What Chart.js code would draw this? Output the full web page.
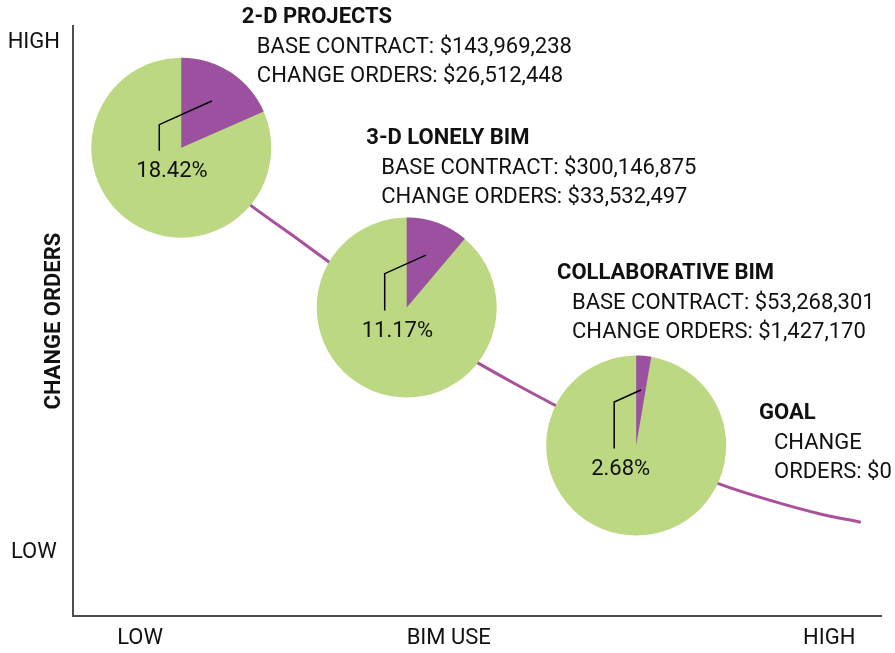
<!DOCTYPE html>
<html>
<head>
<meta charset="utf-8">
<script src="https://cdn.jsdelivr.net/npm/chart.js@4.4.1/dist/chart.umd.min.js"></script>
<style>
  html, body { margin: 0; padding: 0; background: #fff; }
  #wrap { width: 895px; height: 653px; }
</style>
</head>
<body>
<div id="wrap"><canvas id="myChart"></canvas></div>
<script>
// project groups (one pie each)
const projectNames = ['2-D PROJECTS', '3-D LONELY BIM', 'COLLABORATIVE BIM'];
const baseContracts = ['$143,969,238', '$300,146,875', '$53,268,301'];
const changeOrders = ['$26,512,448', '$33,532,497', '$1,427,170'];
const changePercents = [18.42, 11.17, 2.68];
const projectBimUse = [13.4, 41.3, 69.7];
const projectChangeLevel = [79.4, 52.3, 28.9];

// goal note
const goalTitle = 'GOAL';
const goalLines = ['CHANGE', 'ORDERS: $0'];

// trend curve
const curveBimUse = [13.4, 21.9, 26.9, 31.6, 41.3, 50.0, 54.8, 59.7, 69.7, 79.8, 86.3, 92.5, 97.5];
const curveChangeLevel = [78.9, 69.7, 64.8, 60.1, 50.4, 43.0, 39.3, 35.7, 28.3, 22.5, 19.6, 17.3, 15.9];

// axis ticks
const xTickValues = [8.3, 46.5, 93.6];
const xTickLabels = ['LOW', 'BIM USE', 'HIGH'];
const yTickValues = [97.2, 10.7];
const yTickLabels = ['HIGH', 'LOW'];

const FONT = 'Roboto';
const GREEN = '#bdd882';
const PURPLE = '#9b50a0';
const CURVE = '#a9519d';
const INK = '#111';

// purple slice, leader line and % label on top of each green point
const pieSlices = {
    id: 'pieSlices',
    afterDatasetsDraw(chart, args, opts) {
        const ctx = chart.ctx;
        const meta = chart.getDatasetMeta(0);
        meta.data.forEach((pt, i) => {
            const r = opts.radius;
            const cx = pt.x, cy = pt.y;
            const a0 = -Math.PI / 2;
            const a1 = a0 + changePercents[i] / 100 * Math.PI * 2;
            ctx.save();
            ctx.fillStyle = PURPLE;
            ctx.beginPath();
            ctx.moveTo(cx, cy);
            ctx.arc(cx, cy, r, a0, a1);
            ctx.closePath();
            ctx.fill();

            const am = (a0 + a1) / 2;
            const sx = cx + Math.cos(am) * r * 0.62;
            const sy = cy + Math.sin(am) * r * 0.62;
            const ex = cx - 22;
            const ey = sy + 0.45 * (sx - ex);
            ctx.strokeStyle = '#000';
            ctx.lineWidth = 1.5;
            ctx.beginPath();
            ctx.moveTo(sx, sy);
            ctx.lineTo(ex, ey);
            ctx.lineTo(ex, cy + 3);
            ctx.stroke();

            ctx.fillStyle = INK;
            ctx.font = '22px ' + FONT;
            ctx.textAlign = 'left';
            ctx.textBaseline = 'middle';
            ctx.fillText(changePercents[i].toFixed(2) + '%', cx - 45, cy + 24);
            ctx.restore();
        });
    },
    afterDraw(chart, args, opts) {
        const ctx = chart.ctx;
        const xs = chart.scales.x, ys = chart.scales.y;
        const notes = projectNames.map((name, i) => ({
            title: name,
            lines: ['BASE CONTRACT: ' + baseContracts[i], 'CHANGE ORDERS: ' + changeOrders[i]]
        }));
        notes.push({ title: goalTitle, lines: goalLines });
        ctx.save();
        ctx.fillStyle = INK;
        ctx.textAlign = 'left';
        ctx.textBaseline = 'middle';
        notes.forEach((note, i) => {
            const a = opts.anchors[i];
            const x = xs.getPixelForValue(a.x);
            const y = ys.getPixelForValue(a.y);
            ctx.font = 'bold 22px ' + FONT;
            ctx.fillText(note.title, x, y);
            ctx.font = '22px ' + FONT;
            note.lines.forEach((line, j) => {
                ctx.fillText(line, x + 15, y + 29.5 * (j + 1));
            });
        });
        ctx.restore();
    }
};

const ctx = document.getElementById('myChart').getContext('2d');
const myChart = new Chart(ctx, {
    type: 'scatter',
    data: {
        datasets: [{
            label: 'Projects',
            data: projectBimUse.map((x, i) => ({ x: x, y: projectChangeLevel[i] })),
            pointRadius: 90,
            pointHoverRadius: 90,
            pointBorderWidth: 0,
            pointBackgroundColor: GREEN,
            showLine: false
        }, {
            label: 'Trend',
            data: curveBimUse.map((x, i) => ({ x: x, y: curveChangeLevel[i] })),
            showLine: true,
            borderColor: CURVE,
            borderWidth: 3,
            pointRadius: 0,
            cubicInterpolationMode: 'monotone'
        }]
    },
    options: {
        responsive: true,
        maintainAspectRatio: false,
        animation: false,
        events: [],
        layout: { autoPadding: false, padding: { top: 25, right: 14, left: 0, bottom: 0 } },
        plugins: {
            legend: { display: false },
            tooltip: { enabled: false },
            pieSlices: {
                radius: 90,
                anchors: [
                    { x: 20.9, y: 101.4 },
                    { x: 36.3, y: 80.9 },
                    { x: 59.9, y: 58.0 },
                    { x: 84.9, y: 34.3 }
                ]
            }
        },
        scales: {
            x: {
                type: 'linear',
                min: 0,
                max: 100,
                afterBuildTicks: s => { s.ticks = xTickValues.map(v => ({ value: v })); },
                afterFit: s => { s.height = 37; },
                grid: { display: false, drawTicks: false },
                border: { display: true, color: '#4d4d4d', width: 2 },
                ticks: {
                    autoSkip: false,
                    maxRotation: 0,
                    padding: 9,
                    color: INK,
                    font: { family: FONT, size: 22 },
                    callback: (v, i) => xTickLabels[i]
                }
            },
            y: {
                type: 'linear',
                min: 0,
                max: 100,
                afterBuildTicks: s => { s.ticks = yTickValues.map(v => ({ value: v })); },
                afterFit: s => { s.width = 73; },
                grid: { display: false, drawTicks: false },
                border: { display: true, color: '#4d4d4d', width: 2 },
                title: {
                    display: true,
                    text: 'CHANGE ORDERS',
                    color: INK,
                    font: { family: FONT, size: 22, weight: 'bold' },
                    padding: { top: 41, bottom: 0 }
                },
                ticks: {
                    autoSkip: false,
                    crossAlign: 'center',
                    padding: 13,
                    color: INK,
                    font: { family: FONT, size: 22 },
                    callback: (v, i) => yTickLabels[i]
                }
            }
        }
    },
    plugins: [pieSlices]
});
</script>
</body>
</html>
